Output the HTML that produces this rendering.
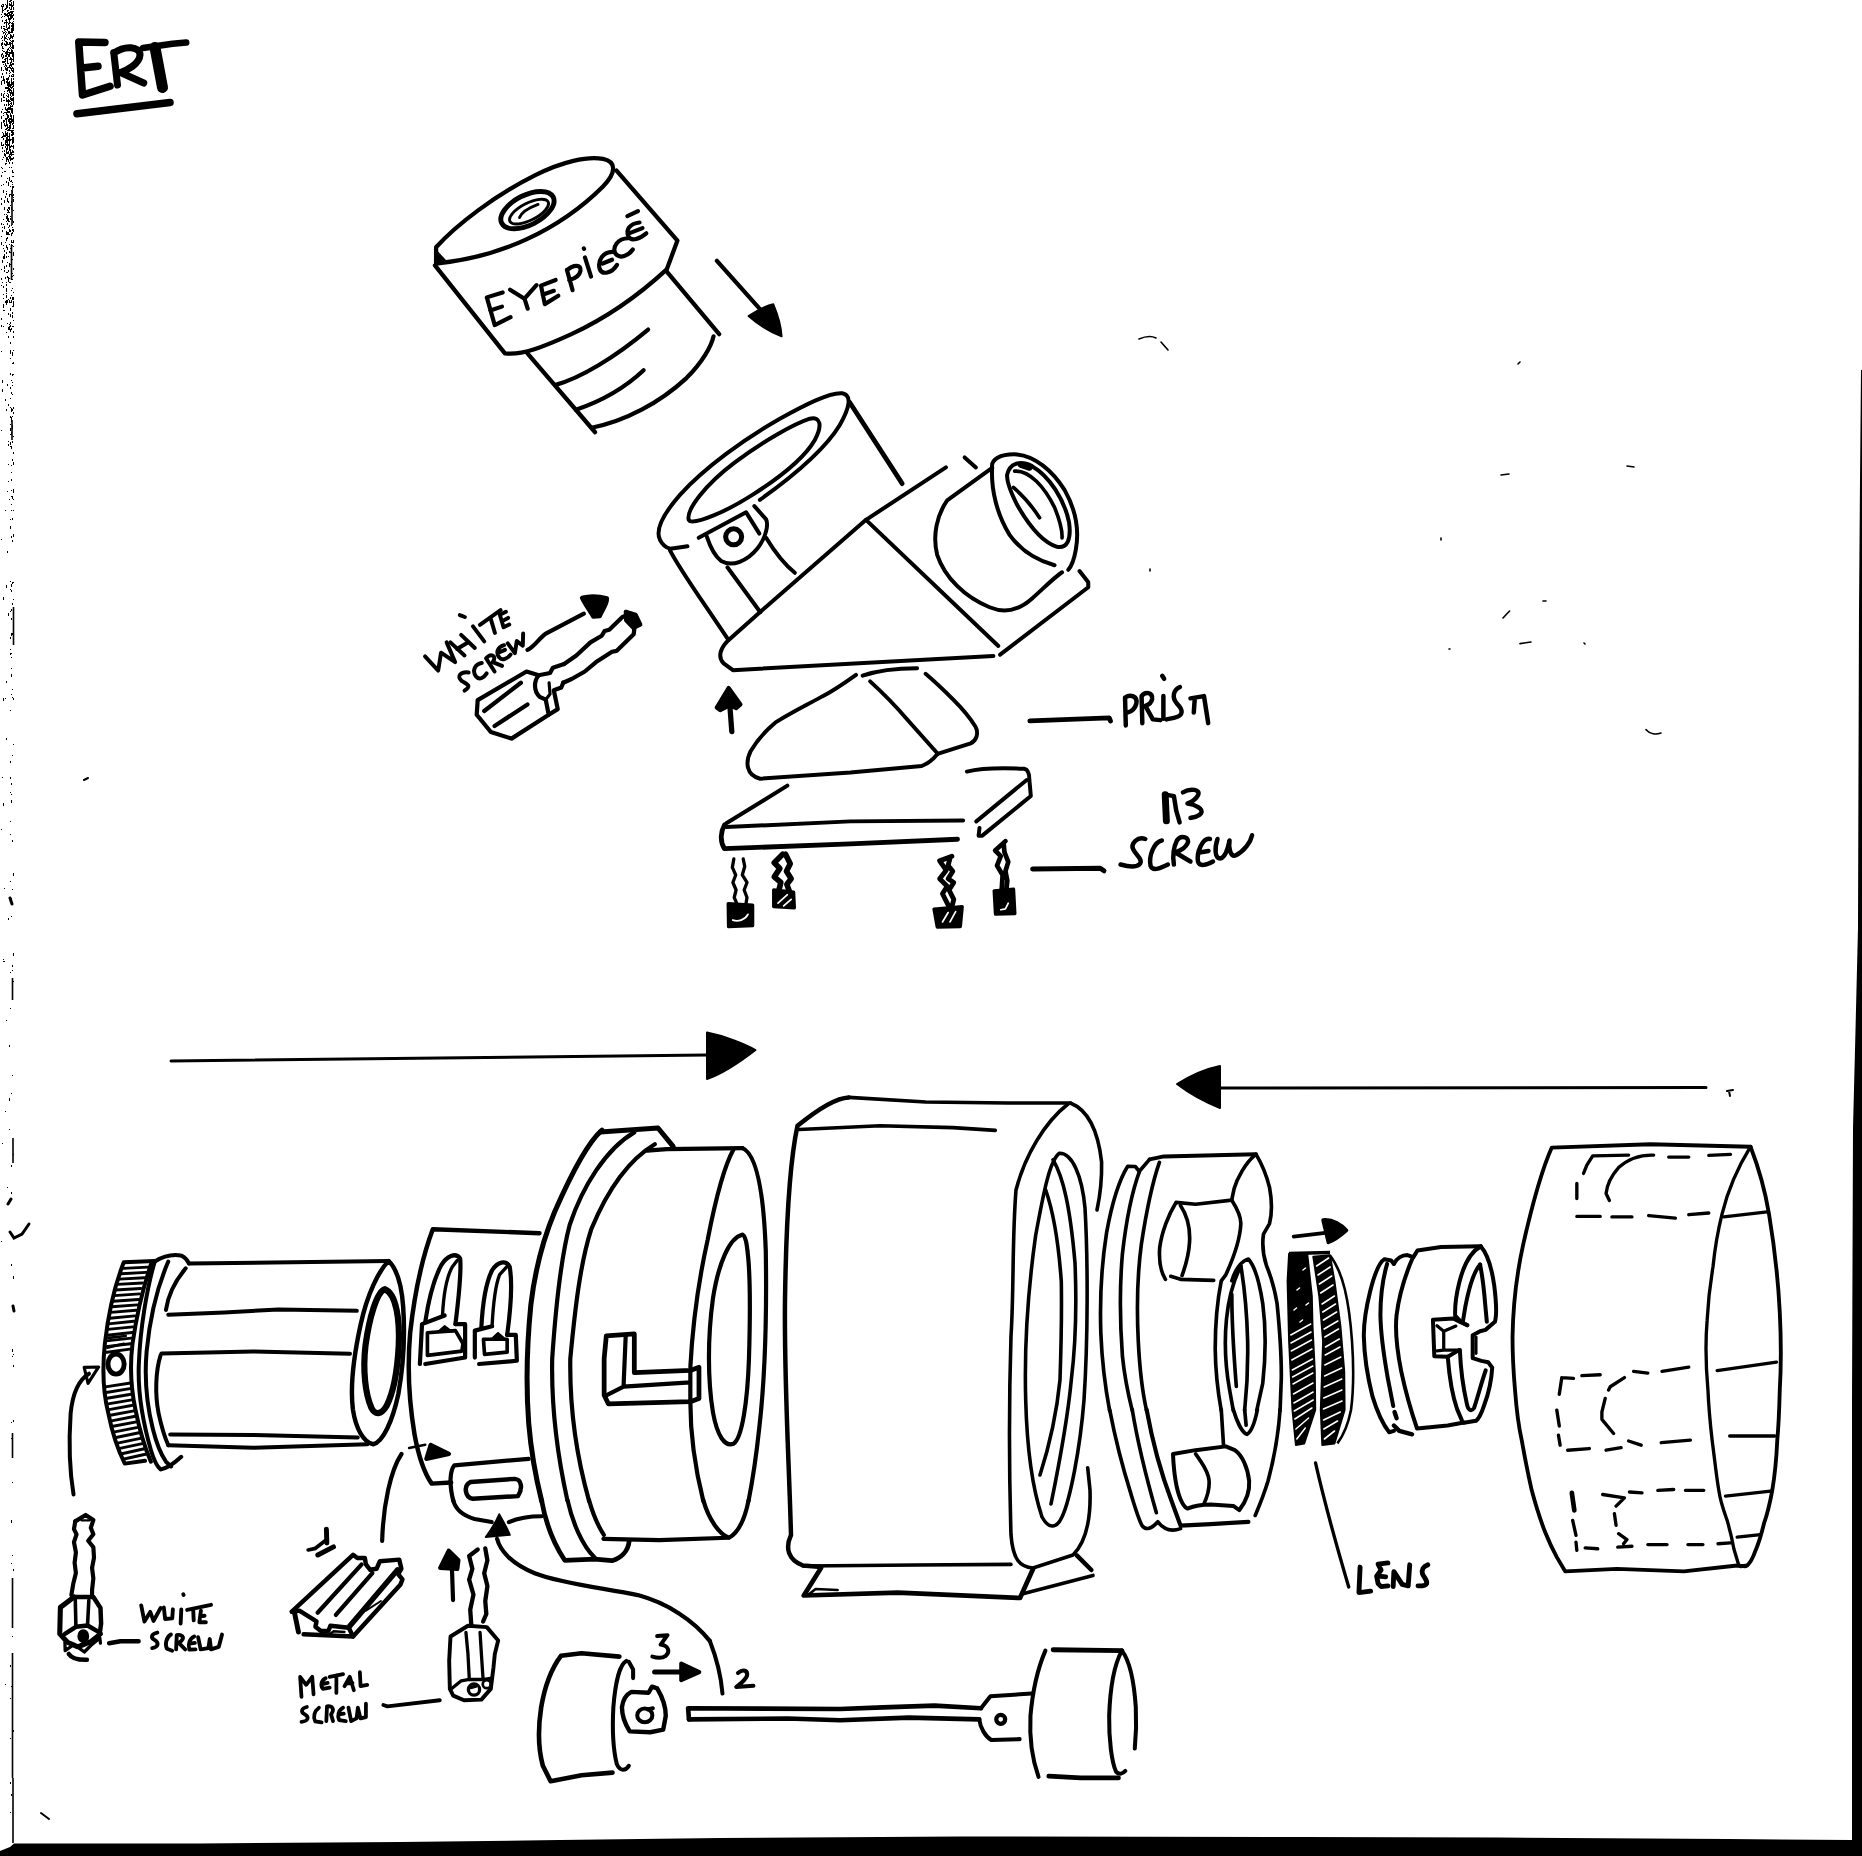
<!DOCTYPE html>
<html><head><meta charset="utf-8"><title>ERT</title>
<style>
html,body{margin:0;padding:0;background:#fff;}
body{width:1862px;height:1856px;overflow:hidden;font-family:"Liberation Sans",sans-serif;}
svg{display:block}
.s{fill:none;stroke:#000;stroke-linecap:round;stroke-linejoin:round}
.f{fill:#000;stroke:#000;stroke-linejoin:round}
</style></head><body>
<svg width="1862" height="1856" viewBox="0 0 1862 1856">
<rect width="1862" height="1856" fill="#fff"/>
<g>
<path d="M7.5,0v2 M10.5,0v2 M11.5,0v1 M9.5,1v1 M10.5,1v1 M13.5,1v2 M7.5,2v2 M11.5,2v1 M13.5,2v2 M7.5,3v1 M9.5,3v2 M11.5,3v1 M13.5,3v3 M2.5,4v1 M3.5,4v2 M5.5,4v1 M7.5,4v2 M9.5,4v2 M10.5,4v2 M11.5,4v3 M13.5,4v2 M1.5,5v2 M3.5,5v2 M6.5,5v2 M10.5,5v1 M11.5,5v1 M12.5,5v2 M13.5,5v1 M2.5,6v1 M6.5,6v2 M7.5,6v2 M11.5,6v1 M12.5,6v1 M2.5,7v3 M6.5,7v2 M9.5,7v1 M11.5,7v3 M13.5,7v2 M5.5,8v2 M9.5,8v1 M11.5,8v2 M13.5,8v1 M4.5,9v1 M10.5,9v1 M13.5,9v1 M2.5,10v3 M3.5,10v1 M7.5,10v2 M8.5,10v1 M10.5,11v2 M11.5,11v1 M12.5,11v3 M13.5,11v1 M8.5,12v2 M9.5,12v2 M10.5,12v1 M11.5,12v3 M12.5,12v2 M4.5,13v2 M5.5,13v1 M7.5,13v2 M9.5,13v2 M11.5,13v2 M1.5,14v1 M5.5,14v2 M6.5,14v1 M9.5,14v1 M10.5,14v2 M11.5,14v1 M13.5,14v2 M6.5,15v1 M7.5,15v2 M8.5,15v3 M9.5,15v1 M10.5,15v2 M11.5,15v1 M12.5,15v1 M13.5,15v1 M2.5,16v1 M4.5,16v1 M10.5,16v2 M11.5,16v3 M12.5,16v2 M1.5,17v1 M8.5,17v3 M10.5,17v3 M11.5,17v2 M9.5,18v3 M13.5,18v1 M6.5,19v3 M8.5,19v1 M9.5,19v1 M13.5,19v1 M2.5,20v2 M5.5,20v1 M6.5,21v2 M9.5,21v2 M13.5,21v1 M4.5,22v2 M5.5,22v1 M7.5,22v1 M9.5,22v2 M10.5,22v1 M12.5,22v2 M6.5,23v2 M8.5,23v2 M11.5,23v1 M12.5,23v1 M13.5,23v3 M12.5,24v3 M13.5,24v2 M6.5,25v2 M9.5,25v3 M11.5,25v1 M12.5,25v1 M1.5,26v1 M3.5,26v1 M4.5,26v1 M6.5,26v2 M9.5,26v3 M11.5,26v1 M13.5,26v1 M1.5,27v2 M8.5,27v2 M12.5,27v1 M13.5,27v1 M3.5,28v1 M4.5,28v3 M7.5,28v2 M9.5,28v1 M11.5,28v3 M12.5,28v1 M13.5,28v2 M5.5,29v1 M6.5,29v1 M11.5,29v2 M12.5,29v2 M7.5,30v1 M12.5,30v3 M13.5,30v1 M2.5,31v1 M5.5,31v1 M8.5,31v3 M9.5,31v1 M11.5,31v2 M3.5,32v2 M4.5,32v1 M6.5,32v1 M9.5,32v1 M10.5,32v1 M5.5,33v2 M8.5,33v1 M9.5,33v1 M7.5,34v1 M10.5,34v1 M13.5,34v3 M4.5,35v3 M6.5,35v1 M10.5,35v2 M11.5,35v3 M13.5,35v1 M2.5,36v2 M4.5,36v1 M6.5,36v1 M10.5,36v2 M12.5,36v3 M5.5,37v1 M8.5,37v1 M12.5,37v1 M1.5,38v1 M4.5,38v3 M5.5,38v1 M6.5,38v1 M9.5,38v2 M10.5,38v1 M12.5,38v1 M7.5,39v1 M2.5,40v1 M10.5,40v1 M12.5,40v2 M13.5,40v2 M5.5,41v1 M6.5,41v3 M11.5,41v1 M12.5,41v3 M2.5,42v3 M7.5,42v2 M9.5,42v1 M10.5,42v3 M12.5,42v1 M1.5,43v3 M4.5,43v2 M6.5,43v1 M9.5,43v2 M11.5,43v1 M12.5,43v1 M5.5,44v2 M6.5,44v2 M7.5,44v1 M8.5,44v1 M10.5,44v3 M12.5,44v3 M6.5,45v1 M13.5,45v3 M2.5,46v2 M12.5,46v3 M13.5,46v3 M2.5,47v1 M9.5,47v1 M11.5,47v1 M13.5,47v2 M2.5,48v1 M3.5,48v1 M8.5,48v1 M10.5,48v1 M7.5,49v1 M8.5,49v1 M11.5,49v2 M2.5,50v1 M7.5,50v2 M9.5,50v1 M11.5,50v2 M12.5,50v3 M3.5,51v1 M4.5,51v1 M6.5,51v1 M11.5,51v3 M5.5,52v2 M6.5,52v2 M7.5,52v2 M8.5,52v1 M9.5,52v2 M10.5,52v1 M13.5,52v1 M2.5,53v2 M6.5,53v2 M7.5,53v2 M10.5,53v1 M12.5,53v3 M13.5,53v2 M1.5,54v3 M6.5,54v3 M7.5,54v1 M8.5,54v3 M9.5,54v1 M13.5,54v2 M1.5,55v1 M3.5,55v3 M5.5,55v2 M6.5,55v2 M8.5,55v1 M9.5,55v1 M12.5,55v2 M1.5,56v1 M6.5,56v1 M9.5,56v1 M12.5,56v1 M13.5,56v1 M2.5,57v2 M3.5,57v1 M7.5,57v2 M10.5,57v2 M13.5,57v2 M5.5,58v3 M6.5,58v1 M7.5,58v2 M10.5,58v1 M11.5,58v1 M4.5,59v1 M5.5,59v3 M9.5,59v1 M10.5,59v1 M11.5,59v2 M12.5,59v1 M13.5,59v2 M7.5,60v3 M13.5,60v2 M2.5,61v2 M3.5,61v2 M4.5,61v2 M5.5,61v1 M7.5,61v3 M11.5,61v2 M10.5,62v2 M11.5,62v1 M5.5,63v3 M8.5,63v1 M10.5,63v2 M12.5,63v2 M13.5,63v2 M3.5,64v1 M11.5,64v2 M5.5,65v1 M6.5,65v2 M9.5,65v3 M10.5,65v1 M11.5,65v2 M4.5,66v1 M6.5,66v1 M11.5,66v1 M1.5,67v1 M5.5,67v3 M7.5,67v3 M8.5,67v1 M10.5,67v1 M12.5,67v2 M1.5,68v3 M5.5,68v1 M6.5,68v3 M7.5,68v1 M10.5,68v1 M11.5,68v3 M13.5,68v2 M7.5,69v1 M11.5,69v2 M3.5,70v1 M7.5,70v1 M9.5,70v2 M12.5,70v2 M13.5,70v1 M12.5,71v1 M13.5,71v2 M6.5,72v2 M10.5,72v1 M2.5,73v1 M9.5,73v1 M2.5,74v1 M12.5,74v1 M13.5,74v3 M9.5,75v2 M11.5,75v2 M1.5,76v2 M3.5,76v2 M12.5,76v1 M8.5,77v2 M3.5,78v2 M6.5,78v1 M7.5,78v1 M8.5,78v2 M11.5,78v2 M13.5,78v2 M3.5,79v2 M4.5,79v2 M6.5,79v1 M7.5,79v1 M2.5,80v1 M3.5,80v1 M4.5,80v1 M7.5,80v1 M11.5,80v1 M1.5,81v2 M4.5,81v2 M6.5,81v1 M7.5,81v2 M9.5,81v3 M11.5,81v2 M13.5,81v1 M4.5,82v2 M6.5,82v1 M7.5,82v2 M8.5,82v1 M12.5,82v3 M13.5,82v3 M1.5,83v1 M4.5,83v1 M7.5,83v2 M8.5,83v2 M9.5,83v2 M11.5,83v3 M12.5,83v1 M1.5,84v1 M9.5,84v2 M10.5,84v1 M12.5,84v1 M7.5,85v1 M8.5,85v1 M10.5,85v3 M13.5,85v1 M8.5,86v2 M9.5,86v1 M12.5,86v2 M13.5,86v1 M5.5,87v2 M6.5,87v1 M7.5,87v1 M8.5,87v1 M11.5,87v2 M6.5,88v1 M7.5,88v1 M8.5,88v3 M9.5,88v2 M13.5,88v2 M9.5,89v3 M10.5,89v2 M7.5,90v2 M10.5,90v1 M11.5,90v3 M13.5,90v3 M4.5,91v1 M13.5,91v2 M9.5,92v1 M10.5,92v3 M12.5,92v3 M1.5,93v3 M4.5,93v1 M7.5,93v1 M11.5,93v1 M12.5,93v3 M13.5,93v2 M3.5,94v2 M8.5,94v1 M1.5,95v1 M6.5,95v1 M8.5,95v1 M10.5,95v1 M12.5,95v1 M13.5,95v1 M3.5,96v2 M7.5,96v1 M8.5,96v2 M11.5,96v1 M4.5,97v1 M8.5,97v1 M10.5,97v2 M13.5,97v1 M1.5,98v2 M6.5,98v2 M10.5,98v2 M11.5,98v3 M12.5,98v2 M13.5,98v2 M1.5,99v1 M6.5,99v3 M8.5,99v1 M10.5,99v1 M11.5,99v1 M13.5,99v3 M1.5,100v1 M3.5,100v1 M4.5,100v1 M7.5,100v2 M8.5,100v1 M9.5,100v2 M12.5,100v1 M13.5,100v2 M1.5,101v1 M7.5,101v1 M8.5,101v2 M10.5,101v1 M13.5,101v3 M11.5,102v3 M8.5,103v3 M10.5,103v1 M13.5,103v2 M4.5,104v2 M6.5,104v1 M9.5,104v1 M4.5,105v1 M6.5,105v1 M10.5,105v1 M12.5,105v1 M10.5,106v1 M11.5,106v1 M12.5,106v1 M5.5,107v3 M8.5,107v3 M9.5,107v3 M10.5,107v3 M7.5,108v1 M8.5,108v1 M9.5,108v2 M11.5,108v1 M12.5,108v1 M2.5,109v1 M6.5,109v2 M7.5,109v1 M11.5,109v2 M12.5,109v1 M7.5,110v1 M11.5,110v3 M12.5,110v1 M1.5,111v2 M7.5,111v2 M8.5,111v2 M9.5,111v2 M11.5,111v2 M12.5,111v1 M4.5,112v1 M5.5,112v1 M6.5,112v1 M9.5,112v1 M11.5,112v1 M12.5,112v2 M3.5,113v1 M6.5,113v1 M10.5,113v2 M6.5,114v1 M7.5,114v3 M3.5,115v1 M7.5,115v1 M8.5,115v2 M10.5,115v1 M11.5,115v2 M13.5,115v1 M1.5,116v1 M10.5,116v1 M13.5,116v2 M1.5,117v2 M7.5,117v1 M8.5,117v1 M11.5,117v2 M13.5,117v2 M5.5,118v2 M6.5,118v1 M7.5,118v1 M9.5,118v2 M10.5,118v2 M6.5,119v2 M8.5,119v3 M11.5,119v2 M12.5,119v2 M13.5,119v1 M3.5,120v1 M4.5,120v1 M6.5,120v3 M9.5,120v2 M11.5,120v2 M12.5,120v1 M13.5,120v2 M3.5,121v2 M4.5,121v1 M8.5,121v1 M9.5,121v2 M10.5,121v2 M12.5,121v1 M13.5,121v3 M1.5,122v2 M9.5,122v2 M10.5,122v2 M11.5,122v1 M1.5,123v3 M4.5,123v3 M6.5,123v3 M9.5,123v1 M12.5,123v2 M7.5,124v2 M10.5,124v3 M5.5,125v1 M7.5,125v2 M9.5,125v3 M13.5,125v2 M1.5,126v3 M5.5,126v1 M7.5,126v2 M13.5,126v3 M8.5,127v1 M10.5,127v1 M6.5,128v2 M7.5,128v1 M9.5,128v3 M10.5,128v1 M12.5,128v1 M5.5,129v1 M8.5,129v1 M7.5,130v1 M8.5,130v1 M10.5,130v1 M11.5,130v2 M12.5,130v2 M13.5,130v1 M5.5,131v2 M2.5,132v1 M7.5,132v1 M11.5,132v1 M12.5,132v2 M13.5,132v3 M3.5,133v2 M5.5,133v1 M6.5,133v1 M7.5,133v3 M9.5,133v2 M3.5,134v2 M5.5,134v3 M6.5,134v2 M9.5,134v1 M11.5,134v2 M12.5,134v2 M13.5,134v1 M4.5,135v2 M9.5,135v2 M2.5,136v2 M3.5,136v1 M4.5,136v1 M7.5,136v1 M8.5,136v1 M1.5,137v1 M6.5,137v1 M7.5,137v1 M9.5,137v1 M12.5,137v3 M13.5,137v3 M3.5,138v1 M6.5,138v1 M7.5,138v3 M9.5,138v2 M12.5,138v1 M13.5,138v1 M3.5,139v1 M6.5,139v2 M7.5,139v1 M8.5,139v2 M10.5,139v1 M11.5,139v1 M13.5,139v1 M5.5,140v1 M8.5,140v1 M9.5,140v1 M10.5,140v1 M12.5,140v1 M13.5,140v2 M5.5,141v3 M6.5,141v1 M7.5,141v1 M9.5,141v3 M12.5,141v3 M13.5,141v1 M1.5,142v1 M5.5,142v1 M6.5,142v1 M7.5,142v2 M13.5,142v1 M1.5,143v1 M5.5,143v1 M7.5,143v2 M1.5,144v2 M3.5,144v2 M5.5,144v1 M6.5,144v2 M8.5,144v1 M9.5,144v2 M1.5,145v1 M2.5,145v1 M7.5,145v3 M8.5,145v1 M9.5,145v2 M11.5,145v2 M13.5,145v2 M5.5,146v2 M10.5,146v2 M12.5,146v1 M13.5,146v1 M2.5,147v2 M7.5,147v1 M9.5,147v2 M13.5,147v2 M2.5,148v1 M6.5,148v1 M7.5,148v2 M9.5,148v3 M6.5,149v1 M10.5,149v3 M4.5,150v2 M6.5,150v1 M12.5,150v3 M2.5,151v1 M6.5,151v3 M8.5,151v3 M10.5,151v3 M13.5,151v2 M7.5,152v1 M8.5,152v1 M11.5,152v2 M4.5,153v3 M7.5,153v1 M10.5,153v2 M5.5,154v3 M9.5,154v1 M11.5,154v2 M12.5,154v1 M13.5,154v1 M9.5,155v2 M8.5,156v1 M10.5,156v1 M3.5,157v1 M6.5,157v2 M7.5,157v1 M9.5,157v1 M10.5,157v2 M13.5,157v2 M7.5,158v1 M9.5,158v1 M11.5,158v2 M12.5,158v2 M2.5,159v1 M6.5,159v3 M7.5,159v1 M8.5,159v3 M10.5,159v2 M12.5,159v1 M9.5,162v2 M12.5,162v2 M5.5,163v2 M6.5,163v1 M1.5,167v1 M9.5,167v1 M11.5,167v1 M2.5,168v1 M12.5,170v3 M4.5,171v1 M5.5,171v1 M2.5,172v1 M13.5,172v1 M1.5,175v2 M12.5,176v1 M13.5,176v1 M9.5,177v3 M7.5,178v1 M9.5,180v1 M11.5,180v2 M6.5,181v2 M10.5,181v1 M8.5,182v2 M12.5,182v1 M8.5,183v3 M3.5,184v1 M12.5,184v1 M1.5,185v1 M10.5,186v1 M12.5,186v2 M13.5,186v1 M12.5,187v3 M13.5,187v1 M12.5,188v2 M3.5,190v3 M11.5,190v1 M6.5,191v1 M12.5,191v2 M6.5,193v2 M9.5,194v3 M10.5,194v1 M11.5,194v2 M13.5,194v2 M12.5,195v2 M5.5,196v2 M13.5,197v1 M1.5,198v2 M7.5,198v1 M1.5,199v1 M7.5,199v3 M13.5,199v3 M4.5,200v3 M8.5,201v2 M11.5,201v2 M1.5,203v2 M10.5,205v1 M4.5,207v3 M8.5,207v2 M9.5,207v3 M11.5,207v2 M9.5,208v1 M11.5,208v2 M7.5,209v2 M8.5,210v1 M13.5,210v1 M8.5,211v2 M7.5,212v1 M9.5,212v1 M4.5,214v1 M6.5,214v1 M7.5,215v2 M6.5,216v3 M10.5,216v1 M6.5,217v1 M7.5,217v2 M8.5,218v1 M10.5,218v2 M3.5,219v1 M7.5,219v2 M8.5,219v1 M8.5,220v2 M12.5,220v1 M6.5,221v1 M9.5,221v1 M13.5,221v2 M1.5,223v2 M7.5,223v2 M3.5,224v1 M9.5,225v2 M11.5,225v1 M4.5,226v3 M2.5,227v1 M8.5,227v1 M12.5,227v1 M9.5,229v3 M12.5,229v2 M13.5,229v3 M2.5,230v2 M10.5,230v2 M6.5,231v2 M7.5,232v3 M8.5,232v3 M12.5,232v2 M6.5,233v2 M11.5,233v3 M9.5,234v1 M11.5,234v2 M1.5,236v1 M7.5,237v2 M6.5,238v3 M7.5,238v1 M6.5,239v2 M11.5,240v2 M13.5,240v3 M11.5,241v2 M1.5,242v1 M5.5,242v1 M12.5,242v1 M1.5,243v2 M9.5,244v1 M11.5,244v1 M3.5,245v1 M6.5,245v2 M12.5,245v1 M6.5,246v2 M13.5,246v1 M7.5,247v3 M3.5,248v1 M10.5,248v1 M7.5,249v1 M4.5,250v2 M9.5,251v2 M6.5,252v2 M10.5,252v1 M13.5,252v1 M11.5,253v1 M13.5,253v3 M4.5,254v2 M11.5,254v2 M13.5,254v2 M3.5,256v3 M4.5,256v3 M6.5,256v2 M8.5,256v1 M4.5,258v1 M11.5,258v1 M12.5,259v1 M2.5,260v3 M7.5,262v1 M9.5,263v2 M9.5,264v2 M10.5,264v1 M6.5,265v2 M9.5,265v2 M4.5,266v3 M13.5,268v2 M1.5,269v1 M4.5,270v2 M8.5,270v2 M6.5,272v1 M7.5,272v1 M11.5,273v1 M12.5,273v1 M11.5,274v3 M13.5,275v1 M7.5,276v2 M12.5,276v1 M5.5,277v2 M8.5,277v3 M1.5,278v2 M9.5,278v1 M8.5,279v3 M12.5,279v1 M2.5,282v1 M6.5,282v1 M9.5,282v1 M10.5,282v1 M6.5,284v2 M1.5,285v1 M3.5,286v2 M6.5,288v2 M12.5,288v1 M6.5,289v3 M11.5,290v1 M13.5,292v1 M6.5,293v1 M3.5,294v1 M6.5,295v3 M11.5,295v1 M10.5,297v2 M12.5,297v3 M13.5,297v2 M3.5,298v1 M13.5,298v2 M8.5,299v1 M6.5,300v3 M7.5,300v3 M9.5,300v3 M11.5,300v3 M5.5,301v2 M6.5,301v3 M9.5,301v2 M13.5,301v1 M10.5,302v1 M13.5,302v3 M6.5,303v2 M3.5,304v2 M13.5,305v2 M3.5,306v2 M12.5,306v1 M10.5,308v3 M3.5,310v1 M4.5,310v1 M12.5,312v2 M8.5,313v2 M10.5,314v3 M12.5,315v3 M1.5,318v2 M13.5,320v1 M10.5,322v2 M7.5,323v1 M9.5,324v1 M1.5,325v2 M10.5,325v2 M3.5,326v1 M9.5,326v1 M12.5,326v1 M13.5,326v1 M8.5,327v3 M9.5,327v3 M11.5,328v1 M10.5,329v2 M11.5,329v1 M10.5,331v1 M13.5,331v1 M6.5,332v1 M13.5,332v1 M8.5,336v2 M13.5,336v2 M10.5,342v1 M10.5,343v1 M10.5,350v3 M13.5,350v1 M1.5,351v1 M12.5,352v2 M10.5,353v1 M12.5,353v1 M12.5,354v2 M10.5,358v1 M13.5,362v2 M12.5,363v1 M10.5,373v2 M12.5,374v2 M13.5,374v1 M2.5,380v3 M11.5,380v1 M12.5,382v1 M7.5,384v2 M12.5,385v1 M10.5,387v2 M2.5,389v3 M11.5,392v2 M12.5,394v1 M10.5,398v1 M5.5,399v2 M8.5,404v2 M10.5,407v1 M13.5,407v2 M11.5,408v3 M6.5,409v2 M11.5,409v3 M12.5,409v2 M13.5,412v2 M10.5,416v2 M12.5,416v1 M11.5,417v3 M11.5,419v3 M10.5,424v1 M12.5,425v1 M12.5,426v3 M10.5,428v3 M1.5,430v1 M11.5,432v3 M10.5,434v1 M13.5,436v1 M8.5,441v1 M12.5,441v1 M10.5,442v3 M12.5,442v1 M8.5,444v2 M10.5,446v1 M11.5,446v3 M13.5,452v2 M12.5,459v2 M13.5,462v3 M13.5,463v1 M8.5,464v1 M11.5,465v1 M11.5,472v1 M11.5,479v2 M8.5,481v1 M13.5,489v2 M11.5,490v1 M13.5,490v3 M7.5,491v1 M11.5,496v1 M12.5,496v2 M12.5,497v2 M9.5,499v1 M13.5,499v1 M11.5,504v1 M5.5,510v1 M11.5,510v1 M13.5,510v1 M12.5,518v2 M10.5,519v1 M10.5,526v3 M13.5,534v3 M11.5,536v2 M1.5,539v1 M12.5,540v2 M7.5,551v2 M10.5,581v1 M12.5,582v2 M13.5,582v1 M11.5,584v2 M6.5,585v3 M11.5,586v1 M10.5,589v1 M11.5,590v2 M3.5,597v2 M3.5,599v1 M13.5,599v1 M12.5,603v2 M11.5,609v2 M10.5,611v1 M8.5,613v3 M13.5,617v2 M11.5,618v2 M11.5,633v2 M12.5,633v2 M11.5,634v2 M10.5,637v2 M10.5,649v1 M10.5,653v2 M11.5,653v1 M10.5,654v1 M11.5,657v1 M11.5,668v1 M11.5,674v3 M6.5,681v2 M12.5,689v1 M11.5,694v1 M12.5,697v1 M3.5,698v3 M5.5,698v1 M13.5,698v2 M10.5,710v1 M6.5,738v2 M13.5,744v1 M12.5,755v1 M10.5,761v2 M2.5,777v1 M10.5,777v2 M11.5,783v2 M10.5,792v1 M11.5,794v1 M11.5,800v3 M3.5,803v3 M10.5,821v1 M1.5,829v1 M10.5,834v1 M12.5,840v2 M13.5,873v3 M10.5,881v1 M4.5,888v1 M12.5,889v1 M11.5,898v3 M10.5,900v2 M11.5,916v1 M8.5,918v2 M13.5,953v3 M3.5,959v1 M3.5,961v1 M4.5,961v1 M12.5,965v2 M12.5,970v1 M10.5,972v1 M13.5,981v1 M10.5,1008v1 M6.5,1020v1 M9.5,1045v2 M12.5,1075v1 M11.5,1093v1 M9.5,1098v3 M5.5,1111v1 M9.5,1129v1 M2.5,1143v1 M13.5,1154v1 M11.5,1165v2 M7.5,1187v1 M11.5,1192v2 M1.5,1241v1 M11.5,1264v2 M13.5,1276v3 M12.5,1349v3 M13.5,1354v1 M12.5,1356v1 M13.5,1365v2 M13.5,1420v2 M11.5,1422v1 M11.5,1438v1 M12.5,1482v1 M11.5,1520v3 M12.5,1555v1 M11.5,1563v1 M13.5,1569v2 M12.5,1617v2 M12.5,1636v1 M12.5,1663v1 M10.5,1665v2 M5.5,1684v1 M11.5,1686v1 M10.5,1698v1 M13.5,1730v2 M10.5,1738v1 M12.5,1739v2 M12.5,1745v2 M12.5,1749v1 M12.5,1762v2 M12.5,1766v2 M10.5,1782v2 M11.5,1794v2 M10.5,1812v1" stroke="#000" stroke-width="1" fill="none"/>
<path d="M12,190V225 M11.5,245V280 M12,420V440 M13.5,607V645 M12.5,978V1000 M13,1138V1163 M12.5,1433V1458 M12.5,1578V1628 M12.5,1653V1778 M13,1778V1843" stroke="#000" stroke-width="1.6" fill="none"/>
<path d="M10,1232 L14,1238 L22,1234 L29,1224" stroke="#000" stroke-width="3" fill="none" stroke-linecap="round"/>
<path d="M10,898 L12,904 M13,1306 L14,1311 M8,1204 L11,1199" stroke="#000" stroke-width="3" fill="none" stroke-linecap="round"/>
<path d="M41,1813 L49,1819 M84,780 L88,778" stroke="#000" stroke-width="2" fill="none" stroke-linecap="round"/>
<!-- bottom band -->
<path d="M0,1851 L10,1847 L14,1843.5 L200,1843.5 L400,1842 L560,1840 L720,1838 L960,1836.5 L1300,1837 L1500,1837.5 L1728,1839 L1852,1840 L1862,1840 L1862,1856 L0,1856 Z" fill="#000"/>
<!-- right wedge -->
<path d="M1862,370 L1861,370 L1860,480 L1859,610 L1858,928 L1855.5,1030 L1853,1128 L1852,1400 L1852,1856 L1862,1856 Z" fill="#000"/>
<!-- stray specks -->
<path d="M1139,339 C1146,336 1152,336 1156,338 M1161,342 L1168,350 M1518,364 L1520,362 M1501,475 L1509,474 M1627,466 L1634,467 M1503,618 L1509.6,611 M1520,643.6 L1531,642 M1646,729.6 C1650,734 1656,735 1661,733 M1150,569 L1150,571 M1441,538 L1441,540 M1584,643 L1585,644 M1449,649 L1450,649 M1543,601 L1546,601" stroke="#000" stroke-width="1.6" fill="none" stroke-linecap="round"/>
</g>
<!--EDGES-->
<g transform="scale(0.25)" class="s" stroke-width="28">
<path d="M420,170 L315,168 L322,270 L330,380 L440,345 M328,272 L392,265" stroke-width="30"/>
<path d="M455,210 L470,340 M455,212 C500,180 560,185 560,220 C558,255 510,280 482,290 L575,332" stroke-width="28"/>
<path d="M572,192 L690,175 L745,170" stroke-width="26"/>
<path d="M620,190 L650,350" stroke-width="44"/>
<path d="M308,455 L680,410" stroke-width="30"/>
</g>
<!--TITLE-->
<!--EYEPIECE-->
<g transform="translate(400,130) scale(0.22556)" class="s" stroke-width="18.85">
<path d="M160,520 C250,420 420,290 600,200 C720,140 830,115 900,128 C960,140 960,190 900,250 C820,330 700,420 560,485 C420,550 280,580 160,592 Z"/>
<path class="f" d="M160,535 L160,592 L205,584 Z" stroke-width="8"/>
<path d="M155,600 L465,990 C540,1000 640,960 760,905 C900,840 1050,740 1180,620"/>
<path d="M960,180 L1230,490 L1180,625 L1415,905"/>
<path d="M565,990 L865,1340"/>
<path d="M850,1320 C1000,1290 1150,1210 1270,1100 C1340,1030 1380,960 1390,915"/>
<path d="M690,1130 C800,1100 950,1010 1100,885"/>
<path d="M780,1240 C900,1200 1000,1140 1080,1065"/>
<ellipse cx="565" cy="355" rx="128" ry="66" transform="rotate(-27 565 355)" stroke-width="21.75"/>
<ellipse cx="572" cy="362" rx="95" ry="38" transform="rotate(-27 572 362)" stroke-width="13.05"/>
<path d="M530,388 C540,362 580,342 612,330" stroke-width="13.05"/>
<!-- arrow -->
<path d="M1405,580 L1610,810"/>
<path class="f" d="M1545,825 C1585,800 1625,775 1655,772 C1675,820 1690,870 1692,915 C1640,895 1585,860 1545,825 Z" stroke-width="8"/>
<!-- text EYEPIECE -->
<g stroke-width="18.5">
<path d="M455,720 L385,742 L420,865 L490,830 M400,800 L452,783"/>
<path d="M488,708 L552,748 M605,688 L552,748 L566,792"/>
<path d="M690,665 L625,690 L642,772 L702,735 M632,730 L682,713"/>
<path d="M740,620 L765,710 M740,622 C770,595 805,595 800,625 C795,650 770,660 750,665"/>
<path d="M820,565 L847,650 M815,525 L816,527"/>
<path d="M942,540 C900,540 875,580 885,615 C895,645 940,635 962,598 M898,592 L940,575"/>
<path d="M1012,480 C965,480 940,520 955,548 C975,575 1015,555 1032,530"/>
<path d="M1062,410 C1020,415 1000,440 1012,470 C1025,500 1065,480 1092,458 M1018,457 L1075,435 M1008,382 L1055,360"/>
</g>
</g>
<g transform="translate(640,370) scale(0.24973)" class="s" stroke-width="16">
<path d="M480,520 C620,420 740,320 800,220 C840,150 850,100 810,93 C760,88 660,140 560,195 C420,275 260,390 160,500 C90,580 60,640 80,680 C90,700 105,712 122,716 L190,706"/>
<path d="M195,600 C185,560 260,460 380,370 C500,280 620,215 680,195 C725,185 730,225 700,280 C660,350 560,430 450,500 C340,570 230,615 200,605 Z"/>
<path d="M840,130 L1050,455" stroke-width="19"/>
<path d="M120,722 C160,800 240,910 350,1075"/>
<path d="M1225,390 L905,600 L480,970 L362,1075 C320,1110 310,1150 335,1175 L372,1202 L1415,1145"/>
<path d="M905,600 L1435,1105"/>
<path d="M1442,1140 L1795,870 L1795,850 L1760,805"/>
<path d="M235,672 L425,570 L478,655"/>
<path d="M268,668 C285,720 300,745 325,765 C370,790 430,765 470,715 C505,670 515,620 505,598 L458,545"/>
<circle cx="375" cy="668" r="32" stroke-width="20.3"/>
<path d="M350,790 L482,970"/>
<path d="M505,672 C540,730 580,780 620,812"/>
<path d="M1410,390 C1405,360 1440,335 1510,338 C1580,345 1650,400 1700,480 C1745,560 1760,640 1745,720 C1738,760 1728,785 1715,800"/>
<path d="M1410,390 C1405,480 1430,580 1480,660 C1530,730 1600,765 1660,782"/>
<path d="M1470,420 C1480,375 1520,360 1570,385 C1640,425 1700,520 1718,610 C1728,680 1710,715 1670,708 C1610,690 1550,610 1510,540 C1485,490 1468,450 1470,420 Z"/>
<path d="M1495,470 C1530,500 1570,545 1600,592" stroke-width="14.5"/>
<path d="M1500,405 C1560,400 1620,470 1660,550 C1680,600 1692,640 1690,672" stroke-width="14.5"/>
<path d="M1525,380 L1560,392" stroke-width="23.2"/>
<path d="M1410,392 L1230,522 C1190,580 1170,660 1190,740 C1220,830 1300,910 1400,950 C1460,975 1520,960 1570,915 C1620,870 1660,830 1690,810"/>
<path d="M1300,350 L1345,390"/>
</g>
<!--DIAGONAL-->
<g transform="translate(410,570) scale(0.18797)" class="s" stroke-width="22.4">
<!-- WHITE -->
<g stroke-width="21">
<path d="M80,460 L150,535 L165,440 L240,490 L195,385"/>
<path d="M215,385 L290,455 M272,345 L345,415 M250,420 L312,383"/>
<path d="M335,300 L395,380"/>
<path d="M372,292 L482,213 M428,255 L452,335"/>
<path d="M510,222 L478,238 L498,305 L528,290 M490,272 L522,255"/>
<path d="M265,240 L292,250"/>
<!-- SCREW -->
<path d="M312,545 C270,540 245,565 275,590 C305,610 330,615 290,642"/>
<path d="M382,495 C345,500 330,535 350,565 C370,590 395,570 408,550"/>
<path d="M405,470 L450,540 M405,470 C430,440 465,455 440,490 L490,510"/>
<path d="M500,400 C465,410 455,440 475,465 C490,485 520,470 535,450 M470,440 L505,425"/>
<path d="M520,390 L558,442 L568,378 L600,402 L602,338"/>
</g>
<!-- leader + arrowhead -->
<path d="M625,425 C660,410 690,360 720,340 L925,232"/>
<path class="f" d="M915,148 C960,135 1010,140 1048,150 C1050,185 1020,215 1010,245 L975,248 C955,215 930,180 915,148 Z"/>
<!-- screw head -->
<path d="M360,692 L620,540 L685,560 C660,590 655,640 690,675 L722,690 L738,770 L540,897 L430,862 L355,770 Z"/>
<path d="M395,750 L590,600 M450,830 L625,715"/>
<path d="M685,560 L745,548 L760,520 L820,500"/>
<path d="M738,770 L786,740 L765,640 L805,625 L815,600"/>
<path d="M722,690 L745,660 L740,600" stroke-width="16.8"/>
<!-- shaft -->
<path d="M820,500 L885,455 L960,385 L1020,350 L1035,325 L1060,318 L1130,250 L1160,240"/>
<path d="M815,600 L860,580 L930,540 L990,490 L1075,435 L1100,430 L1190,342 L1195,300"/>
<path class="f" d="M1148,222 L1200,238 L1225,290 L1188,308 L1150,268 Z"/>
<!-- up arrow -->
<path d="M1700,700 L1712,860" stroke-width="28"/>
<path class="f" d="M1632,732 L1695,628 L1758,715 L1735,735 L1700,720 L1650,745 Z"/>
</g>
<g transform="translate(700,640) scale(0.18797)" class="s" stroke-width="21">
<!-- prism -->
<path d="M830,185 C760,235 700,275 650,300 C560,350 470,395 400,440 C340,490 300,540 270,590 C240,650 245,720 320,738 L800,705 L1180,670 C1220,655 1245,630 1262,608"/>
<path d="M865,190 C950,160 1050,150 1155,150"/>
<path d="M1200,180 C1260,230 1310,280 1350,320 C1400,370 1440,420 1465,460 C1485,500 1470,535 1440,550 L1268,605"/>
<path d="M905,220 C960,270 1040,350 1100,420 L1265,605"/>
<!-- plate -->
<path d="M465,775 L140,975"/>
<path d="M140,995 L800,965 L1400,960"/>
<path d="M130,985 C110,1020 105,1070 130,1110 L800,1085 L1370,1060" stroke-width="25.65"/>
<path d="M1420,700 C1500,680 1620,680 1725,685 C1750,690 1752,720 1752,740 L1760,830 L1500,1042 L1482,1042 L1487,1000"/>
<path d="M1738,745 L1470,965"/>
<!-- screws -->
<g stroke-width="17.55">
<path d="M180,1165 L172,1210 L190,1250 L175,1290 L192,1330 L182,1370 L195,1400"/>
<path d="M230,1165 L238,1205 L225,1250 L250,1290 L235,1330 L250,1370 L245,1400"/>
<path class="f" d="M150,1402 L280,1410 L280,1520 L152,1525 Z"/>
<path d="M175,1490 C200,1500 240,1490 255,1460" stroke="#fff" stroke-width="10"/>
<path d="M440,1140 L395,1185 L425,1215 L395,1260 L430,1290 L420,1330 M455,1140 L480,1190 L460,1230 L485,1270 L462,1300 L475,1335" stroke-width="30"/>
<path class="f" d="M392,1330 L498,1342 L502,1425 L392,1418 Z"/>
<path d="M415,1400 L465,1355 M445,1415 L485,1380" stroke="#fff" stroke-width="9"/>
<path d="M1340,1150 L1275,1175 L1310,1225 L1275,1270 L1315,1310 L1290,1350 L1325,1420 M1330,1160 L1320,1200 L1345,1230 L1320,1270 L1350,1290 L1325,1330 L1350,1380 L1340,1420" stroke-width="26"/>
<path class="f" d="M1245,1432 L1395,1418 L1385,1525 L1262,1527 Z"/>
<path d="M1290,1500 L1320,1450 M1330,1500 L1360,1445" stroke="#fff" stroke-width="9"/>
<path d="M1625,1070 L1570,1120 L1600,1150 L1580,1200 L1610,1250 L1605,1330 M1615,1080 L1620,1130 L1640,1180 L1625,1230 L1635,1280 L1630,1330" stroke-width="25"/>
<path class="f" d="M1565,1335 L1668,1325 L1675,1455 L1572,1458 Z"/>
<path d="M1600,1435 L1625,1430 L1640,1400" stroke="#fff" stroke-width="9"/>
</g>
</g>
<g transform="translate(1010,660) scale(0.15038)" class="s" stroke-width="29.7">
<path d="M132,405 L660,385 L668,405" stroke-width="32.4"/>
<path d="M150,1390 L600,1385 L625,1402" stroke-width="32.4"/>
<path d="M770,435 L765,250 C800,225 850,240 840,290 C830,330 800,345 780,350"/>
<path d="M880,420 L875,240 C900,205 950,215 945,260 C940,290 915,300 900,305 L950,395 L1000,400"/>
<path d="M1020,390 L1020,240 M1012,105 L1025,125"/>
<path d="M1130,180 C1085,200 1075,250 1110,290 C1150,330 1160,370 1090,385 L1040,395"/>
<path d="M1200,255 L1290,240 L1318,420 M1228,265 L1222,350"/>
<path d="M1040,1070 L1032,895" stroke-width="46"/><path d="M1035,895 L1090,905 L1105,1000 L1128,1080"/>
<path d="M1150,880 C1200,850 1270,860 1250,900 C1230,940 1190,950 1180,955 C1230,960 1290,990 1270,1020 C1250,1045 1220,1045 1200,1050"/>
<path d="M900,1190 C850,1170 800,1220 820,1260 C840,1300 890,1330 860,1360 C830,1385 770,1370 735,1360"/>
<path d="M1010,1200 C960,1210 920,1300 935,1370 C950,1410 1010,1380 1050,1360"/>
<path d="M1090,1360 C1080,1300 1090,1240 1110,1200 C1140,1160 1200,1180 1180,1220 C1160,1260 1120,1270 1100,1280 L1200,1340"/>
<path d="M1330,1190 C1280,1180 1240,1280 1250,1340 C1260,1380 1310,1360 1350,1340 M1260,1280 L1320,1270"/>
<path d="M1380,1190 C1360,1250 1360,1320 1400,1320 C1430,1310 1450,1250 1460,1200 C1450,1260 1470,1310 1500,1300 C1560,1270 1600,1210 1610,1165"/>
</g>
<!--PRISM-->
<g transform="translate(60,1220) scale(0.19334)" class="s" stroke-width="20.7">
<!-- knurled ring -->
<path d="M490,212 L330,218 C290,320 250,480 232,640 C215,800 225,900 250,1000 C270,1100 300,1190 335,1260 L440,1245"/>
<path d="M470,230 C430,350 395,500 375,640 C360,760 365,860 390,980 C410,1080 440,1180 470,1250"/>
<path d="M327,250 L455,244 M317,278 L446,271 M306,306 L436,299 M296,333 L427,326 M286,362 L418,354 M281,391 L411,382 M275,420 L405,411 M269,449 L399,439 M263,478 L393,467 M257,508 L387,496 M251,537 L381,524 M247,566 L377,553 M244,596 L373,582 M240,625 L369,611 M237,655 L365,640 M234,685 L361,668 M235,863 L365,843 M239,892 L370,871 M244,922 L375,900 M249,951 L379,929 M254,981 L384,957 M260,1010 L389,986 M267,1039 L396,1014 M275,1067 L402,1043 M283,1096 L409,1071 M290,1125 L415,1099 M298,1154 L422,1128 M309,1181 L432,1155 M320,1209 L442,1182 M332,1236 L453,1209" stroke-width="15"/>
<ellipse cx="290" cy="745" rx="42" ry="52" stroke-width="25.3"/>
<path d="M250,610 L340,600 M245,660 L330,640" stroke-width="13.8"/>
<!-- flange -->
<path d="M490,215 C530,190 580,175 630,185 C650,195 660,210 667,225"/>
<path d="M490,215 C450,350 415,560 408,740 C400,900 430,1050 470,1190 C485,1240 500,1275 520,1290 C560,1285 600,1250 627,1225"/>
<path d="M560,215 C510,330 465,500 448,680 C435,830 450,960 480,1080 C500,1160 520,1210 548,1250 L575,1275" />
<path d="M650,250 C600,310 560,380 548,465"/>
<path d="M520,700 C495,780 490,900 510,1000 C525,1070 540,1120 560,1165"/>
<!-- tube -->
<path d="M667,225 L1700,212"/>
<path d="M560,490 L850,478 L1130,463 L1535,470"/>
<path d="M525,690 L1000,680 L1500,692"/>
<path d="M570,1110 L1000,1112 L1540,1125"/>
<path d="M560,1165 L1000,1178 L1590,1160"/>
<path d="M1700,212 C1650,260 1590,380 1555,540 C1520,700 1500,860 1515,980 C1530,1080 1570,1150 1620,1160 C1670,1150 1720,1040 1750,900 C1775,760 1785,600 1775,450 C1768,350 1750,260 1700,212 Z" stroke-width="23"/>
<path d="M1680,358 C1640,370 1600,500 1580,650 C1565,780 1580,900 1610,970 C1630,1010 1660,1010 1690,960 C1725,890 1745,780 1752,650 C1758,520 1740,380 1680,358 Z" stroke-width="32.2"/>
<!-- arrow -->
<path d="M70,1420 C50,1300 45,1150 55,1000 C65,900 90,830 150,795"/>
<path d="M125,762 L200,760 L145,845 Z" stroke-width="16.1"/>
</g>
<g transform="translate(380,1100) scale(0.21552)" class="s" stroke-width="19.5">
<!-- sleeve -->
<path d="M740,618 L245,600 C200,720 160,900 140,1080 C125,1250 135,1400 160,1550 C180,1660 205,1730 240,1780 L330,1775" stroke-width="20.8"/>
<!-- slot 1 -->
<path d="M210,1030 C225,930 250,830 285,765 C310,725 350,705 372,735 C378,800 365,920 350,1040"/>
<path d="M290,1000 C295,900 310,820 335,775 L358,745" stroke-width="15.6"/>
<path d="M300,1000 L195,1040 L185,1225 M210,1225 L395,1195 L395,1040 L350,1040"/>
<path d="M220,1080 L350,1070 L385,1130 L380,1165 L220,1185 Z" stroke-width="16.9"/>
<path class="f" d="M268,1076 L300,1048 L335,1075 Z" stroke-width="7.8"/>
<!-- slot 2 -->
<path d="M470,1060 C475,960 490,850 520,790 C545,750 585,740 602,775 C615,850 605,980 590,1090"/>
<path d="M520,1050 C525,950 535,860 555,810 L590,772" stroke-width="15.6"/>
<path d="M520,1050 L440,1070 L440,1195 M460,1225 L635,1210 L630,1090 L590,1090"/>
<path d="M480,1110 L590,1110 L590,1170 L485,1180 Z" stroke-width="16.9"/>
<path class="f" d="M520,1106 L547,1080 L578,1106 Z" stroke-width="7.8"/>
<!-- arrowhead 1 -->
<path class="f" d="M235,1600 L320,1642 L215,1665 Z"/>
<path d="M135,1615 L210,1600" stroke-width="11.7"/>
<!-- tab -->
<path d="M690,1665 L345,1695 C325,1720 320,1780 340,1860"/>
<path d="M420,1772 L625,1758 C655,1760 665,1800 640,1838 L430,1850 C395,1845 385,1790 420,1772 Z" stroke-width="20.8"/>
<!-- flange arcs -->
<path d="M1030,140 C960,200 880,360 810,520 C760,640 720,780 700,950 C685,1100 675,1300 690,1500 C700,1620 720,1740 750,1860" stroke-width="23.4"/>
<path d="M1180,150 C1050,225 940,400 880,580 C838,740 816,950 799,1200 C795,1400 812,1600 870,1860"/>
<path d="M1275,205 C1150,280 1050,430 980,600 C928,760 904,980 883,1200 C880,1400 902,1620 970,1860"/>
<path d="M1022,148 L1290,130 L1360,215" stroke-width="23.4"/>
<!-- drum -->
<path d="M1240,235 L1330,228 L1682,223"/>
<path d="M1682,223 C1745,250 1780,420 1790,700 C1795,1000 1785,1300 1760,1520 C1745,1660 1730,1760 1710,1860"/>
<path d="M1640,230 C1590,320 1555,470 1520,650 C1480,830 1450,1050 1440,1240"/>
<path d="M1440,1400 C1440,1550 1460,1700 1500,1860"/>
<path d="M1680,625 C1620,640 1570,760 1545,920 C1520,1100 1520,1300 1545,1450 C1565,1560 1600,1610 1640,1595 C1680,1570 1705,1400 1712,1200 C1718,1000 1718,800 1705,700 C1700,650 1692,625 1680,625 Z"/>
<!-- L bracket -->
<path d="M1050,1095 L1180,1085 L1180,1265 L1440,1255 L1480,1240 L1480,1385 L1440,1400 L1060,1410 L1040,1370 L1040,1200 Z" stroke-width="22.1"/>
<path d="M1140,1095 L1130,1330 L1050,1370 M1130,1330 L1440,1310 M1440,1255 L1440,1400"/>
</g>
<g transform="translate(380,1440) scale(0.21482)" class="s" stroke-width="19.5">
<path d="M341,280 C350,320 380,350 440,368 L520,382"/>
<path d="M600,382 C640,365 690,355 752,355"/>
<path d="M752,280 C770,380 800,470 860,560 L1000,555 L1080,562 C1120,550 1155,520 1160,470" stroke-width="22.1"/>
<path d="M873,280 C895,380 940,490 1000,548"/>
<path d="M973,280 C990,340 1015,400 1042,442"/>
<path d="M1040,460 L1300,466 L1620,455"/>
<path d="M1505,280 C1530,370 1580,440 1625,455 C1670,430 1700,360 1716,280"/>
<path class="f" d="M555,345 C575,380 595,415 605,442 L492,452 C515,420 540,380 555,345 Z" stroke-width="8"/>
<path d="M545,460 C560,520 620,580 720,620 C850,670 1050,690 1200,722 C1340,760 1460,840 1535,935"/>
<path d="M335,600 L340,745"/>
<path class="f" d="M320,515 L365,560 L360,600 L280,595 Z"/>
<path d="M455,510 L415,540 L430,600 L415,650 L435,720 L420,790 L425,860" stroke-width="20"/>
<path d="M490,505 L500,560 L485,620 L500,680 L490,750 L495,810 L480,845" stroke-width="20"/>
<path d="M100,65 C50,140 15,300 10,470"/>
</g>
<g class="s" stroke-width="3.584">
<!-- central housing -->
<path d="M848.8,1097.4 C835,1098 818,1109 797.5,1125.8 C790,1160 786,1230 785,1300 C784,1380 789,1460 791,1535 C785,1548 788,1560 803,1565.5 L821,1567" stroke-width="4.48"/>
<path d="M848.8,1097.4 L925.7,1102 L1008,1103 L1070.4,1103"/>
<path d="M799.3,1129.5 L880,1125.8 L953,1127.6 L995.3,1130.4"/>
<path d="M803,1566 L916,1565 L1011,1564.4"/>
<path d="M1068,1104 C1045,1122 1025,1155 1016,1190 C1012,1240 1014,1290 1011,1336 C1009,1400 1009,1470 1011,1535 C1013,1560 1020,1567 1033,1568 L1073,1555 C1086,1542 1091,1520 1090,1490 L1087.7,1467.7"/>
<path d="M1070.4,1103 C1088,1110 1098,1130 1101.6,1162 C1102,1180 1100,1196 1097,1210"/>
<path d="M1059.4,1153.3 C1050,1160 1044,1190 1035.6,1235.7 C1028,1290 1024,1340 1025.7,1400 C1027,1450 1033,1490 1042,1517 C1048,1528 1056,1530 1062,1517 C1070,1500 1080,1450 1084,1400 C1088,1340 1088,1260 1085,1208 C1082,1175 1072,1153 1059.4,1153.3 Z"/>
<path d="M1053,1159.7 C1063,1177 1070,1205 1075,1263 C1077,1310 1075,1350 1071.3,1380 C1068,1415 1060,1460 1051,1504"/>
<path d="M1045.7,1190 C1052,1208 1058,1235 1061.3,1281.5 C1062,1320 1061,1350 1060,1380 C1056,1420 1048,1450 1040,1475"/>
<!-- base -->
<path d="M821,1568 L803.8,1595.5 L897.8,1592.7 L1020,1598 L1033,1569" stroke-width="4.704"/>
<path d="M808,1595 L815.6,1589 L837.6,1590" stroke-width="2.688"/>
<path d="M1022,1594 L1093,1575.4"/>
<path d="M1076.8,1555.3 L1091.4,1570" stroke-width="4.48"/>
</g>
<g transform="translate(1090,1130) scale(0.15086)" class="s" stroke-width="24.2">
<!-- piece 5 upper -->
<path d="M325,272 L300,242 L250,240 C200,320 150,460 110,680 C75,900 65,1150 72,1350 C80,1550 100,1700 130,1860"/>
<path d="M395,195 L330,270 C285,390 240,600 215,820 C195,1050 200,1300 215,1500 C230,1650 255,1760 280,1860"/>
<path d="M460,215 C420,330 375,530 340,760 C315,950 310,1200 320,1400 C330,1600 350,1750 375,1860"/>
<path d="M395,195 L490,175 L1100,160" stroke-width="26.4"/>
<path d="M1100,160 C1130,210 1170,300 1190,380 C1205,460 1210,540 1190,620 L1150,690 C1140,760 1150,840 1170,900 C1195,960 1225,1060 1240,1150 C1255,1300 1270,1500 1268,1650 L1260,1860"/>
<path d="M1090,170 C1030,220 975,320 955,390 L940,462"/>
<path d="M940,465 L700,492 L570,480 C520,560 475,680 462,780 C455,880 475,950 500,990"/>
<path d="M600,500 C640,560 665,640 660,740 C655,840 630,910 610,965"/>
<path d="M535,970 L600,990 L820,997"/>
<path d="M940,465 C975,520 1000,570 1000,620 C995,720 960,830 900,960 L870,1000 C850,1100 830,1280 830,1450 C832,1620 850,1750 870,1860"/>
<path d="M940,1000 C960,930 1000,870 1050,855 C1090,900 1125,1020 1145,1150 C1165,1300 1165,1500 1145,1680 L1105,1860"/>
<path d="M1000,900 C960,980 920,1100 905,1250 C890,1400 900,1580 925,1720 L950,1860"/>
<path d="M1000,900 C1020,1020 1040,1200 1045,1400 C1048,1560 1040,1720 1025,1860"/>
<path d="M940,1090 C940,1250 950,1450 970,1700"/>
<!-- small arrow -->
<path d="M1350,707 L1560,682"/>
<path class="f" d="M1545,597 C1610,590 1670,630 1700,665 C1660,700 1620,730 1580,745 Z"/>
</g>
<g transform="translate(1090,1380) scale(0.15086)" class="s" stroke-width="24.2">
<!-- piece 5 lower -->
<path d="M130,195 C160,350 210,560 270,750 C300,850 320,920 345,965 C370,1000 410,985 450,940 C480,980 530,1010 600,985"/>
<path d="M280,195 C310,380 360,600 440,880"/>
<path d="M375,195 C405,360 460,590 540,800 L600,965 L800,955 L1050,940" stroke-width="27.5"/>
<path d="M1260,195 C1250,350 1220,520 1180,670 C1150,770 1120,840 1095,898"/>
<path d="M870,195 L885,432"/>
<path d="M950,195 C975,280 1010,350 1040,360 C1070,345 1095,270 1110,195"/>
<path d="M1025,195 L1035,300"/>
<path d="M900,440 L700,465 L550,490 C555,600 570,720 600,790 C615,825 630,845 645,852 C690,835 740,825 800,825 L950,835 L990,862 C1030,810 1060,740 1055,670 C1045,580 1010,500 960,465 Z" stroke-width="26.4"/>
<path d="M700,490 C750,560 790,620 790,680 C790,740 770,790 755,822"/>
<!-- lens leader -->
<path d="M1495,550 C1540,750 1620,1050 1715,1372" stroke-width="22"/>
</g>
<g>
<path d="M1289.1,1253.7 L1287.6,1280.9 L1289.1,1341.2 L1292.5,1410.0 L1295.9,1444.9 L1304.2,1443.4 L1315.2,1410.0 L1314.8,1371.4 L1312.5,1326.0 L1311.8,1296.0 L1307.2,1253.7 Z" fill="#000" stroke="#000" stroke-width="2" stroke-linejoin="round"/>
<path d="M1290.8,1335.0 L1310.7,1324.0 M1291.0,1343.0 L1311.1,1332.0 M1291.3,1351.0 L1311.5,1340.0 M1291.8,1360.0 L1312.0,1349.0 M1292.3,1370.0 L1312.5,1359.0 M1292.6,1377.0 L1312.8,1366.0 M1293.0,1384.0 L1312.9,1373.0 M1293.5,1394.0 L1313.0,1383.0 M1293.9,1403.0 L1313.1,1392.0 M1294.3,1411.0 L1313.2,1400.0 M1294.9,1419.0 L1311.9,1408.0 M1295.9,1429.0 L1308.6,1418.0 M1296.8,1439.0 L1305.3,1428.0 M1297,1290 L1299.5,1288 M1303,1270 L1305.5,1268 M1294,1310 L1296.5,1308 M1306,1305 L1308.5,1303 M1300,1322 L1302.5,1320" fill="none" stroke="#fff" stroke-width="1.5" stroke-linecap="round"/>
<path d="M1313.3,1256.7 L1319.3,1296.0 L1323.1,1341.2 L1321.6,1386.5 L1320.8,1410.0 L1322.3,1444.9 L1334.4,1443.4 L1344.6,1410.0 L1344.2,1371.4 L1340.4,1326.1 L1334.4,1280.9 L1329.9,1255.2 Z" fill="#000" stroke="#000" stroke-width="2" stroke-linejoin="round"/>
<path d="M1316.6,1266.0 L1328.6,1258.0 M1318.0,1275.0 L1330.2,1267.0 M1319.4,1284.0 L1331.7,1276.0 M1320.7,1293.0 L1333.0,1285.0 M1322.1,1304.0 L1334.4,1296.0 M1322.8,1312.0 L1335.5,1304.0 M1323.5,1320.0 L1336.6,1312.0 M1324.2,1329.0 L1337.8,1321.0 M1324.9,1337.0 L1338.5,1329.0 M1325.5,1347.0 L1339.3,1339.0 M1325.3,1355.0 L1340.0,1347.0 M1324.9,1365.0 L1340.8,1357.0 M1324.6,1376.0 L1341.7,1368.0 M1324.2,1387.0 L1341.8,1379.0 M1323.8,1398.0 L1341.9,1390.0 M1323.5,1409.0 L1342.0,1401.0 M1323.6,1420.0 L1340.3,1412.0 M1323.9,1429.0 L1337.5,1421.0 M1324.4,1439.0 L1334.5,1431.0" fill="none" stroke="#fff" stroke-width="1.6" stroke-linecap="round"/>
<path d="M1329.9,1255.2 C1343,1272 1349,1300 1352,1341 C1354,1370 1353,1395 1351,1410 C1348,1425 1343,1436 1337.4,1443.4" fill="none" stroke="#000" stroke-width="2.6"/>
<path d="M1289,1253.5 L1330,1252.5" fill="none" stroke="#000" stroke-width="3.5"/>
</g>
<g transform="translate(1340,1210) scale(0.1347)" class="s" stroke-width="29.7">
<!-- piece 6 -->
<path d="M400,400 L380,375 L330,365 C290,390 255,480 225,600 C195,720 175,830 177,940 C180,1080 200,1220 240,1380 C270,1480 310,1580 365,1650 L400,1640"/>
<path d="M350,400 C320,500 300,640 300,780 C302,920 325,1080 355,1250 L395,1455"/>
<path d="M400,400 C420,360 460,335 500,335 L545,350 L575,300 L750,275 L1045,270"/>
<path d="M540,355 C490,470 440,620 420,780 C405,920 425,1050 455,1200 C485,1340 530,1500 572,1622 L800,1600 L920,1578"/>
<path d="M405,1500 L420,1545 M400,1600 L440,1640 L535,1665" stroke-width="33"/>
<path d="M1045,270 C1090,320 1125,420 1145,560 C1160,680 1165,780 1150,830 L1080,890 L1040,900 L985,930 L985,1100 L1050,1120 L1100,1130 L1130,1170 C1125,1260 1100,1370 1070,1450 C1050,1510 1030,1550 1010,1565 L920,1580"/>
<path d="M1045,270 C970,310 915,420 885,540 C860,640 852,720 855,785 L900,832 L945,855"/>
<path d="M1040,405 C990,460 955,590 930,720 L912,830"/>
<path d="M1040,405 C1055,480 1070,600 1078,700 L1090,830"/>
<path d="M1010,945 L1010,1065" stroke-width="22"/>
<path d="M890,1040 C895,1160 915,1320 940,1430 C950,1490 975,1500 995,1470 C1020,1400 1050,1280 1082,1190"/>
<path d="M800,1090 C810,1220 835,1380 870,1480 L905,1562"/>
<path d="M945,855 L900,835 L840,805 L690,815 L700,1085 L800,1090 L880,1042" />
<path d="M720,860 L770,900 L770,1040 L720,1045 M770,900 L860,862 M770,1040 L890,1040" stroke-width="24.2"/>
</g>
<g transform="translate(1500,1120) scale(0.16703)" class="s" stroke-width="20">
<!-- cup -->
<path d="M1500,160 L900,145 L310,165 C250,300 190,520 140,740 C100,920 78,1100 75,1300 C75,1450 85,1560 90,1617 C100,1750 115,1850 130,1917 C150,2030 170,2130 190,2217 C215,2310 240,2390 270,2467 C295,2530 320,2580 340,2617 L390,2702 L700,2687 L1100,2702 L1420,2667 L1470,2672" stroke-width="23"/>
<path d="M1500,160 C1550,290 1590,440 1610,560 C1640,740 1665,950 1675,1150 C1685,1350 1682,1500 1675,1617 C1672,1730 1668,1830 1660,1917 C1655,2030 1645,2130 1630,2217 C1615,2300 1600,2360 1580,2417 C1565,2480 1550,2530 1530,2577 C1515,2620 1500,2650 1480,2667 L1440,2672" stroke-width="23"/>
<path d="M1500,160 C1420,290 1365,420 1330,560 C1300,680 1285,780 1275,880 C1255,1000 1245,1100 1240,1200 C1230,1320 1230,1450 1245,1617 C1250,1730 1260,1830 1270,1917 C1285,2030 1295,2130 1310,2217 C1320,2290 1340,2340 1360,2397 C1375,2450 1390,2510 1400,2567 L1430,2667"/>
<path d="M1340,580 L1600,550 M1300,1500 L1655,1450 M1375,1892 L1645,1892 M1350,2252 L1620,2222 M1420,2497 L1560,2482"/>
<!-- dashed upper -->
<path d="M560,215 L770,210 M1010,222 L1130,222 M1250,212 L1380,206 M555,215 L520,270 L500,320 M460,380 L460,470"/>
<path d="M920,210 C850,208 770,230 710,285 C670,330 640,390 635,440 L655,482"/>
<path d="M460,577 L600,577 M670,580 L790,580 M890,572 L1050,587 M1130,567 L1250,557"/>
<path d="M490,1530 L600,1525 M800,1505 L885,1515 M970,1505 L1130,1480"/>
<path d="M370,1542 L440,1547 M370,1542 L355,1642 M340,1737 L355,1832 M350,1887 L360,1947 M405,1977 L535,1967 M635,1977 L725,1962 M770,1922 L845,1947 M965,1932 L1140,1917 M745,1542 L660,1597 L650,1617 M630,1667 L610,1747 L610,1792 L680,1877 M775,2227 L850,2232 M945,2217 L1040,2212 M1110,2217 L1220,2217 M435,2397 L455,2487 M455,2527 L460,2577 M510,2562 L585,2567 M705,2557 L790,2552 M885,2542 L1000,2542 M1125,2542 L1215,2542 M1305,2537 L1380,2532 M615,2242 L745,2262 L695,2312 M685,2357 L695,2427 M710,2477 L760,2512 L740,2537"/>
<path d="M430,2232 L445,2337" stroke-width="28"/>
</g>
<g transform="translate(30,1480) scale(0.12931)" class="s" stroke-width="32.2">
<!-- white screw bottom-left -->
<path d="M350,320 L430,270 L490,310 L470,370 L490,420 L450,470 L490,520 L495,600 L480,680 L490,760 L480,850 L480,900"/>
<path d="M350,320 L340,380 L360,420 L340,480 L355,560 L345,640 L355,720 L335,800 L320,890"/>
<path d="M400,312 L460,312" stroke-width="18.4"/>
<path d="M340,905 L490,905 L545,990 L550,1110 L540,1180 L445,1125 L355,1135 L270,1190" stroke-width="34.5"/>
<path d="M340,905 L235,985 L230,1190 L290,1255 L370,1290 L470,1250 L545,1190" stroke-width="39.1"/>
<path d="M350,920 L355,1130 M455,930 L445,1120" stroke-width="27.6"/>
<ellipse cx="412" cy="1208" rx="40" ry="48" fill="#000" stroke-width="11.5"/>
<path d="M270,1255 L272,1320 L340,1272 M380,1300 L420,1330 L470,1280 L540,1222 L545,1262" stroke-width="25.3"/>
<path d="M300,1345 C320,1375 370,1392 440,1390" stroke-width="34.5"/>
<!-- label -->
<path d="M612,1262 L700,1247 L840,1247" stroke-width="34.5"/>
<g stroke-width="29.9">
<path d="M860,970 L885,1095 L930,1020 L955,1090 L1010,990"/>
<path d="M1035,985 L1045,1075 L1100,1070 L1105,1000"/>
<path d="M1170,1000 L1165,1110 M1185,883 L1188,890"/>
<path d="M1215,1005 L1400,965 M1262,1000 L1266,1085"/>
<path d="M1322,1010 L1310,1100 L1360,1100 M1315,1055 L1350,1050"/>
<path d="M985,1180 C940,1190 930,1215 960,1235 C1000,1260 995,1290 945,1300"/>
<path d="M1090,1195 C1055,1215 1040,1270 1060,1305 L1100,1320"/>
<path d="M1130,1310 L1135,1200 C1170,1190 1200,1215 1170,1245 L1150,1260 L1200,1310"/>
<path d="M1270,1210 C1235,1225 1220,1270 1232,1312 L1280,1310 M1235,1265 L1275,1260"/>
<path d="M1300,1215 L1320,1310 L1380,1300 L1390,1230 L1400,1310 L1460,1290 L1485,1195"/>
</g>
</g>
<g transform="translate(280,1500) scale(0.10741)" class="s" stroke-width="39.1">
<!-- key 1 -->
<path d="M110,1040 L680,510 L720,540 L790,540 L800,600 L840,650 L900,640 L930,570 L1110,555 L1130,640 L1100,690 L1140,740 L1120,790 L680,1270 L220,1250" stroke-width="41.4"/>
<path d="M350,1050 L760,600 M520,1070 L860,680"/>
<path d="M640,1185 L1095,650" stroke-width="50.6"/>
<path d="M800,1030 L940,940" stroke-width="18.4"/>
<path d="M110,1040 L180,1030 L340,1130 L330,1180 L380,1220 L450,1220 L470,1170 L640,1190 L680,1270" stroke-width="41.4"/>
<path d="M135,1050 L172,1230" stroke-width="46"/>
<path d="M460,1250 L500,1222 L600,1228" stroke-width="23"/>
<!-- numeral 1 -->
<path d="M432,272 L436,400" stroke-width="46"/>
<path d="M262,465 L330,450 L420,380" stroke-width="34.5"/>
<path d="M352,512 L498,436" stroke-width="46"/>
</g>
<g transform="translate(280,1560) scale(0.13426)" class="s" stroke-width="29.12">
<!-- metal screw head -->
<path d="M1400,490 L1540,500 L1625,600 L1600,700 L1590,800 L1570,960 L1500,1040 L1370,1045 L1290,1010 L1265,960 L1260,750 L1270,570 Z"/>
<path d="M1385,540 L1400,700 L1410,890 M1490,540 L1500,700 L1512,880" stroke-width="24.64"/>
<path d="M1270,965 L1350,900 L1410,890 L1520,890 L1580,880" stroke-width="24.64"/>
<circle cx="1445" cy="965" r="42" stroke-width="24.64"/>
<circle cx="1540" cy="925" r="30" stroke-width="20.16"/>
<path d="M1420,950 L1460,940" stroke-width="24.64"/>
<!-- leader -->
<path d="M770,1080 L800,1090 L1190,1045"/>
<!-- METAL SCREW -->
<g stroke-width="28">
<path d="M160,1020 L150,870 L195,930 L240,870 L250,1000"/>
<path d="M340,880 C305,895 300,935 320,960 L370,950 M315,925 L355,915"/>
<path d="M370,870 L470,850 M420,860 L420,990"/>
<path d="M480,940 L520,870 L550,970 M495,920 L540,915"/>
<path d="M595,835 L600,940 L650,930"/>
<path d="M200,1095 C160,1105 150,1130 185,1150 C220,1170 210,1200 160,1205"/>
<path d="M290,1100 C255,1125 245,1170 262,1202 L310,1210"/>
<path d="M345,1200 L350,1090 C390,1085 410,1110 380,1150 L395,1200"/>
<path d="M470,1100 C435,1120 425,1160 440,1192 L490,1200 M440,1150 L475,1145"/>
<path d="M510,1100 L530,1200 L570,1180 L580,1100 L600,1180 L640,1170 L640,1070"/>
</g>
</g>
<g transform="translate(530,1630) scale(0.17186)" class="s" stroke-width="23.52">
<!-- left cylinder -->
<path d="M520,155 L300,135 L180,150 C120,230 85,330 65,450 C45,580 50,700 75,790 L120,880 L300,845 L480,830" stroke-width="26.88"/>
<path d="M560,180 C520,200 495,320 485,450 C478,580 485,700 505,780 C525,825 555,820 575,790"/>
<path d="M575,185 L600,230 L600,280"/>
<path d="M590,360 L690,365 L710,330 L740,340 C770,390 790,450 790,500 L775,580 L700,595 L580,590 C555,550 535,500 535,450 C540,410 560,375 590,360 Z" stroke-width="25.76"/>
<ellipse cx="668" cy="497" rx="44" ry="40"/>
<path d="M685,462 L715,455"/>
<!-- 3 -->
<path d="M740,35 L800,30 L760,85 C800,90 820,120 790,150 C770,165 735,162 712,155"/>
<path d="M725,245 L885,245" stroke-width="29.12"/>
<path class="f" d="M880,195 L985,245 L880,292 Z"/>
<!-- curve end -->
<path d="M1046,63 C1080,150 1110,250 1120,370"/>
<!-- 2 -->
<path d="M1210,250 C1240,225 1270,235 1262,268 C1250,295 1220,315 1200,332 L1300,325"/>
<!-- rod -->
<path d="M925,520 L920,455 L1804,460 L2054,450 L2354,440 L2624,455" stroke-width="26.88"/>
<path d="M925,520 L1500,515 L1804,525 L2204,510 L2614,520" stroke-width="26.88"/>
<path d="M2624,455 L2679,385 L2919,370"/>
<path d="M2614,520 C2620,570 2650,620 2684,640 L2849,635"/>
<circle cx="2739" cy="520" r="26" stroke-width="24.64"/>
<!-- right cylinder -->
<path d="M2999,120 C2960,210 2925,350 2912,500 C2905,640 2925,760 2959,855"/>
<path d="M3044,115 L3444,120" stroke-width="28"/>
<path d="M3019,850 L3204,860 L3424,860" stroke-width="28"/>
<path d="M3444,120 C3400,200 3375,350 3370,500 C3368,640 3385,770 3410,825 C3430,845 3450,835 3464,820"/>
<path d="M3444,120 C3490,180 3515,300 3525,450 C3530,550 3525,630 3519,690"/>
</g>
<g transform="translate(1330,1540) scale(0.07519)" class="s" stroke-width="65">
<path d="M400,360 L385,700 L540,680"/>
<path d="M770,305 L640,320 L680,400 L620,480 L640,580 L680,620 L770,610 M650,480 L740,490"/>
<path d="M840,620 L850,420 L960,590 L1040,610 L1060,330"/>
<path d="M1300,330 C1240,350 1215,400 1230,450 C1250,500 1300,540 1285,580 C1270,610 1220,612 1170,610"/>
</g>
<!-- long arrows -->
<g class="s" stroke-width="3">
<path d="M171,1061 L707,1055"/>
<path class="f" d="M707,1032.5 C725,1036 745,1044 755.5,1050 C740,1062 722,1074 707,1079 Z" stroke-width="2"/>
<path d="M1220,1088 L1706,1087.6"/>
<path class="f" d="M1177,1084 C1190,1076 1205,1069 1220,1066 L1220,1108 C1205,1102 1190,1094 1177,1084 Z" stroke-width="2"/>
<path d="M1727,1091 L1733,1090 M1729,1091 L1730,1096" stroke-width="2"/>
</g>
<!--BOTTOM-->
</svg>
</body></html>
